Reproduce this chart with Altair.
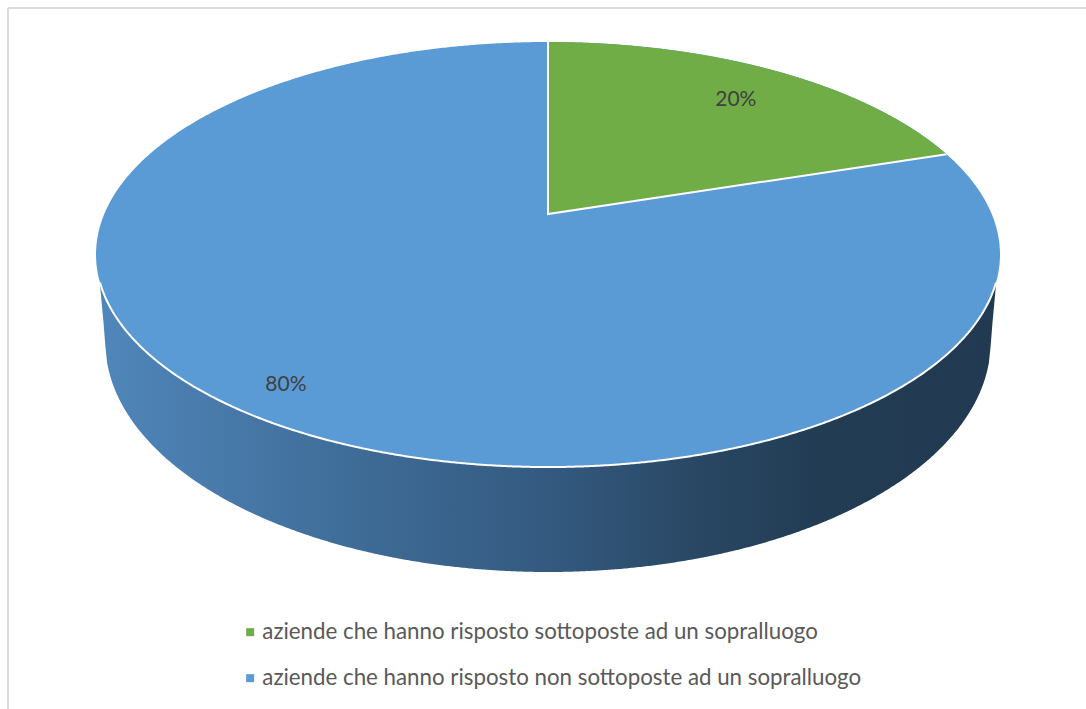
import altair as alt
import numpy as np
import pandas as pd

# Survey result
categories = [
    "aziende che hanno risposto sottoposte ad un sopralluogo",
    "aziende che hanno risposto non sottoposte ad un sopralluogo",
]
shares = [20, 80]
colors = ["#70ad47", "#5b9bd5"]
label_radius = [0.81, 0.87]

WIDTH, HEIGHT = 1086, 709
FONT = "Lato"

# Tilted disc: perspective view of a unit circle around its centre point
CX, CY = 548.0, 214.0
A, B, K = 443.7, 204.8, 0.1906
RX = A / np.sqrt(1 - K**2)
RY = B / (1 - K**2)
ELLIPSE_CY = CY + B * K / (1 - K**2)

# Lower rim of the cylinder wall
LOW_RX, LOW_RY, LOW_CY = 442.7, 230.0, 342.0
WALL_LEFT, WALL_RIGHT, WALL_START_Y = 100.0, 996.0, 285.0


def project(theta, r=1.0):
    """Screen position of a disc point; theta runs clockwise from the top."""
    denom = 1 + K * r * np.cos(theta)
    return CX + A * r * np.sin(theta) / denom, CY - B * r * np.cos(theta) / denom


def rim_offset(x, cx, rx):
    return np.sqrt(np.clip(1 - ((x - cx) / rx) ** 2, 0, 1))


x_scale = alt.Scale(domain=[0, WIDTH], range=[0, WIDTH], nice=False, zero=False)
y_scale = alt.Scale(domain=[0, HEIGHT], range=[0, HEIGHT], nice=False, zero=False)
X = alt.X("x:Q", scale=x_scale, axis=None)
Y = alt.Y("y:Q", scale=y_scale, axis=None, stack=None)
Y2 = alt.Y2("y2:Q")
color_scale = alt.Scale(domain=categories, range=colors)

# Partial frame along the top and left edges
frame = pd.DataFrame({"x": [8, 8], "x2": [WIDTH, 8], "y": [8, 8], "y2": [8, HEIGHT]})
frame_layer = alt.Chart(frame).mark_rule(color="#dcdcdc", strokeWidth=2).encode(
    x=X, x2="x2:Q", y=Y, y2=Y2
)

# Cylinder wall between the front of the disc and the lower rim
wall_x = np.linspace(WALL_LEFT, WALL_RIGHT, 500)
wall_top = ELLIPSE_CY + RY * rim_offset(wall_x, CX, RX)
wall_bottom = LOW_CY + LOW_RY * rim_offset(wall_x, CX, LOW_RX)
left_tangent = CX - LOW_RX
right_tangent = CX + LOW_RX
wall_bottom = np.where(
    wall_x < left_tangent,
    WALL_START_Y + (LOW_CY - WALL_START_Y) * (wall_x - WALL_LEFT) / (left_tangent - WALL_LEFT),
    wall_bottom,
)
wall_bottom = np.where(
    wall_x > right_tangent,
    WALL_START_Y + (LOW_CY - WALL_START_Y) * (WALL_RIGHT - wall_x) / (WALL_RIGHT - right_tangent),
    wall_bottom,
)
wall = pd.DataFrame({"x": wall_x, "y": wall_top, "y2": wall_bottom})
wall_gradient = alt.Gradient(
    gradient="linear",
    x1=0, x2=1, y1=0, y2=0,
    stops=[
        alt.GradientStop(offset=0.0, color="#5086ba"),
        alt.GradientStop(offset=0.33, color="#3c6892"),
        alt.GradientStop(offset=0.5, color="#345a80"),
        alt.GradientStop(offset=0.67, color="#294763"),
        alt.GradientStop(offset=0.8, color="#223c54"),
        alt.GradientStop(offset=1.0, color="#213a52"),
    ],
)
wall_layer = alt.Chart(wall).mark_area(color=wall_gradient, interpolate="linear").encode(
    x=X, y=Y, y2=Y2
)

# Full disc face, which is the larger slice
t = np.linspace(0, np.pi, 721)
disc_x = CX - RX * np.cos(t)
disc = pd.DataFrame({
    "x": disc_x,
    "y": ELLIPSE_CY - RY * np.sin(t),
    "y2": ELLIPSE_CY + RY * np.sin(t),
    "category": categories[1],
})
disc_layer = alt.Chart(disc).mark_area(interpolate="linear").encode(
    x=X, y=Y, y2=Y2,
    color=alt.Color(
        "category:N",
        scale=color_scale,
        sort=None,
        legend=alt.Legend(
            title=None,
            orient="none",
            legendX=239,
            legendY=621,
            direction="vertical",
            symbolType="square",
            symbolSize=64,
            symbolStrokeWidth=0,
            labelFont=FONT,
            labelFontSize=22.3,
            labelColor="#595959",
            labelLimit=800,
            labelOffset=1,
            rowPadding=23,
            padding=0,
        ),
    ),
)

# Smaller slice, clockwise from the top of the disc
sweep = 2 * np.pi * shares[0] / sum(shares)
theta = np.linspace(0, sweep, 300)
wedge_x, wedge_y = project(theta)
edge_x, edge_y = project(sweep)
wedge = pd.DataFrame({
    "x": wedge_x,
    "y": wedge_y,
    "y2": CY + (edge_y - CY) * (wedge_x - CX) / (edge_x - CX),
    "category": categories[0],
})
wedge_layer = alt.Chart(wedge).mark_area(interpolate="linear").encode(
    x=X, y=Y, y2=Y2,
    color=alt.Color("category:N", scale=color_scale, sort=None, legend=None),
)

# White seams: front rim of the disc and the two slice edges
rim_x = wall_x
rim = pd.DataFrame({"x": rim_x, "y": wall_top, "order": np.arange(len(rim_x))})
rim_layer = alt.Chart(rim).mark_line(color="#ffffff", strokeWidth=2).encode(
    x=X, y=Y, order="order:Q"
)
top_x, top_y = project(0.0)
seam = pd.DataFrame({
    "x": [top_x, CX, edge_x],
    "y": [top_y, CY, edge_y],
    "order": [0, 1, 2],
})
seam_layer = alt.Chart(seam).mark_line(color="#ffffff", strokeWidth=2).encode(
    x=X, y=Y, order="order:Q"
)

# Percentage labels at each slice's middle angle
starts = np.cumsum([0] + shares[:-1])
mids = 2 * np.pi * (starts + np.array(shares) / 2) / sum(shares)
label_x, label_y = project(mids, np.array(label_radius))
labels = pd.DataFrame({
    "x": label_x,
    "y": label_y,
    "text": [f"{s}%" for s in shares],
})
label_layer = alt.Chart(labels).mark_text(
    font=FONT, fontSize=21, color="#404040", align="center", baseline="middle", dy=5
).encode(x=X, y=Y, text="text:N")

chart = alt.layer(
    frame_layer, wall_layer, disc_layer, wedge_layer, rim_layer, seam_layer, label_layer
).properties(
    width=WIDTH,
    height=HEIGHT,
    padding=0,
    autosize=alt.AutoSizeParams(type="none"),
    background="#ffffff",
).configure_view(stroke=None)

chart.save("out.html", embed_options={"renderer": "svg", "actions": False})
